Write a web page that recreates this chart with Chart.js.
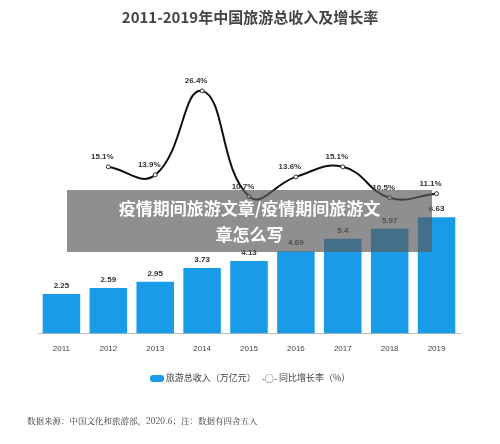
<!DOCTYPE html>
<html><head><meta charset="utf-8">
<script src="https://cdn.jsdelivr.net/npm/chart.js@4/dist/chart.umd.min.js"></script>
<style>
body{margin:0;background:#fff;font-family:"Noto Sans CJK SC",sans-serif;}
#wrap{position:relative;width:500px;height:444px;}
#title{position:absolute;top:6px;left:0;width:500px;text-align:center;font-size:15px;font-weight:bold;color:#444;}
#legend{position:absolute;top:371px;left:0;width:500px;text-align:center;font-size:9px;color:#444;}
#src{position:absolute;top:414px;left:27px;font-size:8.5px;color:#333;font-family:"Noto Serif CJK SC","Noto Sans CJK SC",serif;}
#band{position:absolute;left:67px;top:190px;width:365px;height:62px;background:rgba(90,90,90,0.68);color:#fff;font-weight:bold;font-size:17px;text-align:center;line-height:26px;padding-top:5px;box-sizing:border-box;}
canvas{position:absolute;left:0;top:0;}
</style></head><body>
<div id="wrap">
<canvas id="c" width="500" height="444"></canvas>
<div id="title">2011-2019年中国旅游总收入及增长率</div>
<div id="legend"><span style="display:inline-block;width:14px;height:7px;background:#1a9be8;border-radius:3px;vertical-align:middle"></span> 旅游总收入（万亿元） &nbsp; <span style="vertical-align:middle">-○-</span> 同比增长率（%）</div>
<div id="src">数据来源：中国文化和旅游部，2020.6；注：数据有四舍五入</div>
<div id="band">疫情期间旅游文章/疫情期间旅游文<br>章怎么写</div>
</div>
<script>
const years=["2011","2012","2013","2014","2015","2016","2017","2018","2019"];
const revenue=[2.25,2.59,2.95,3.73,4.13,4.69,5.4,5.97,6.63];
const growth=[null,15.1,13.9,26.4,10.7,13.6,15.1,10.5,11.1];
const labels={id:'lbl',afterDatasetsDraw(ch){const x=ch.ctx;x.save();x.font='bold 8px "Liberation Sans",sans-serif';x.fillStyle='#333';x.textAlign='center';x.textBaseline='bottom';
ch.getDatasetMeta(0).data.forEach((b,i)=>x.fillText(revenue[i],b.x,b.y-4));
ch.getDatasetMeta(1).data.forEach((p,i)=>{if(growth[i]!=null)x.fillText(growth[i].toFixed(1)+'%',p.x-6,p.y-6);});x.restore();}};
Chart.defaults.font.family='"Liberation Sans",sans-serif';
new Chart(document.getElementById('c'),{data:{labels:years,datasets:[
{type:'bar',data:revenue,backgroundColor:'#1a9be8',barPercentage:0.8,categoryPercentage:1,yAxisID:'y',order:2},
{type:'line',data:growth,borderColor:'#111',borderWidth:2,tension:0.45,pointRadius:2,pointBackgroundColor:'#fff',pointBorderColor:'#333',pointBorderWidth:1,yAxisID:'y2',order:1}]},
options:{responsive:false,animation:false,layout:{padding:{left:38,right:40,top:60,bottom:87}},
plugins:{legend:{display:false},tooltip:{enabled:false}},
scales:{x:{grid:{display:false},border:{color:'#bbb'},ticks:{color:'#444',font:{size:8}}},
y:{display:false,min:0,max:15.6},y2:{display:false,min:-9.7,max:31}}},plugins:[labels]});
</script></body></html>
